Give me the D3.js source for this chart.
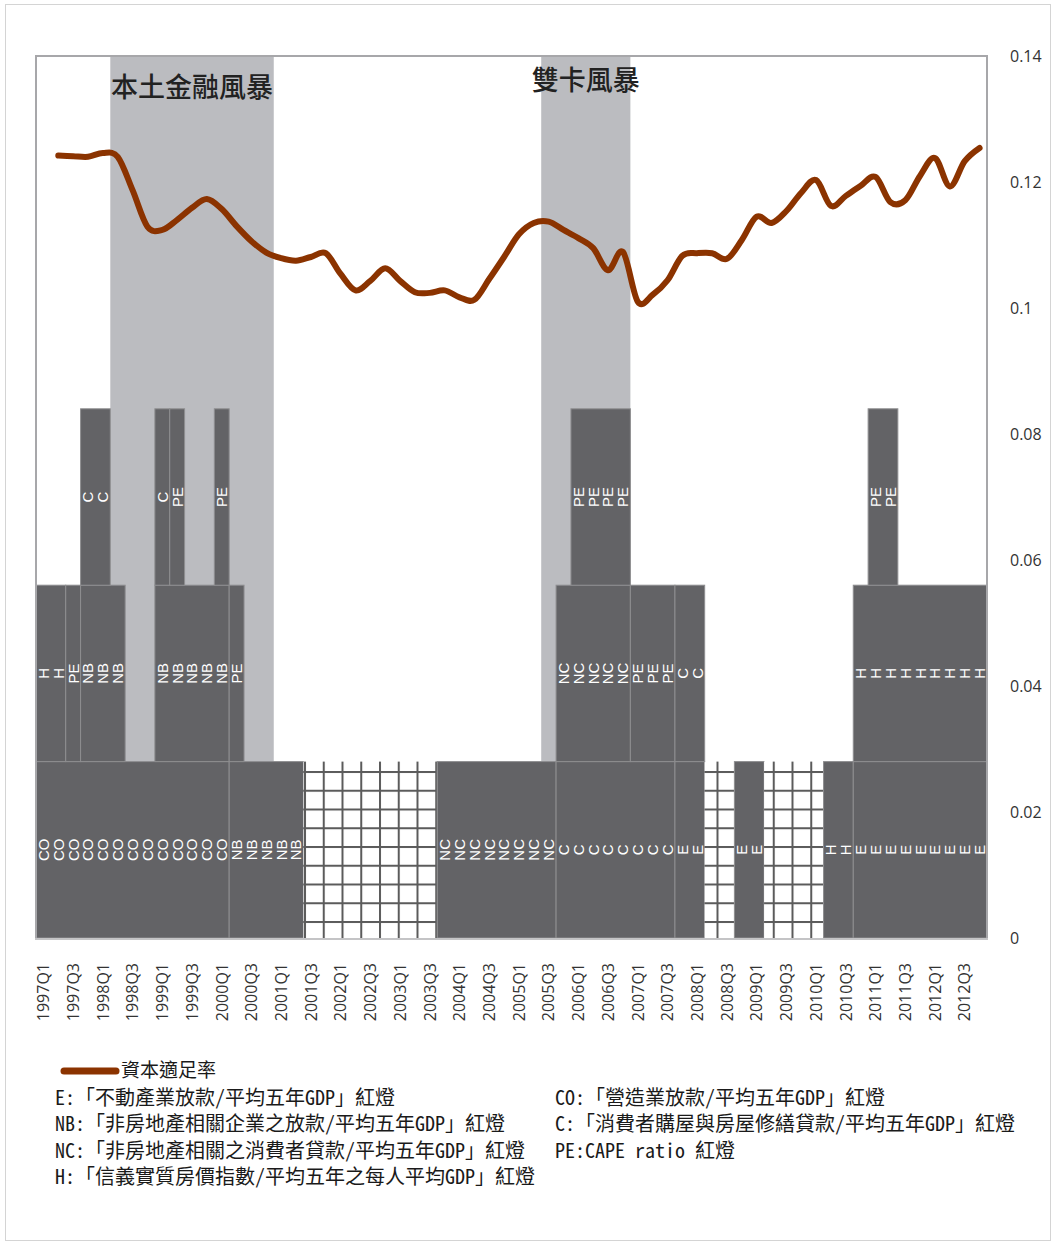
<!DOCTYPE html>
<html>
<head>
<meta charset="utf-8">
<script src="https://cdn.jsdelivr.net/npm/d3@7"></script>
<style>
  body { margin: 0; background: #fff; }
  svg { display: block; }
</style>
</head>
<body>
<script>
// Quarterly categories, 1997Q1 – 2012Q4
const quarters = [
  "1997Q1","1997Q2","1997Q3","1997Q4","1998Q1","1998Q2","1998Q3","1998Q4",
  "1999Q1","1999Q2","1999Q3","1999Q4","2000Q1","2000Q2","2000Q3","2000Q4",
  "2001Q1","2001Q2","2001Q3","2001Q4","2002Q1","2002Q2","2002Q3","2002Q4",
  "2003Q1","2003Q2","2003Q3","2003Q4","2004Q1","2004Q2","2004Q3","2004Q4",
  "2005Q1","2005Q2","2005Q3","2005Q4","2006Q1","2006Q2","2006Q3","2006Q4",
  "2007Q1","2007Q2","2007Q3","2007Q4","2008Q1","2008Q2","2008Q3","2008Q4",
  "2009Q1","2009Q2","2009Q3","2009Q4","2010Q1","2010Q2","2010Q3","2010Q4",
  "2011Q1","2011Q2","2011Q3","2011Q4","2012Q1","2012Q2","2012Q3","2012Q4"
];

// 資本適足率 (one value per quarter; first quarter not reported)
const capitalAdequacy = [
  null,   0.1242, 0.1241, 0.1240,
  0.1246, 0.1240, 0.1187, 0.1129,
  0.1124, 0.1140, 0.1159, 0.1173,
  0.1157, 0.1130, 0.1106, 0.1088,
  0.1079, 0.1075, 0.1081, 0.1087,
  0.1054, 0.1028, 0.1043, 0.1063,
  0.1043, 0.1025, 0.1024, 0.1028,
  0.1017, 0.1013, 0.1046, 0.1081,
  0.1117, 0.1135, 0.1137, 0.1124,
  0.1111, 0.1095, 0.1060, 0.1089,
  0.1010, 0.1021, 0.1044, 0.1083,
  0.1087, 0.1087, 0.1078, 0.1108,
  0.1145, 0.1135, 0.1154, 0.1183,
  0.1203, 0.1162, 0.1178, 0.1194,
  0.1208, 0.1168, 0.1171, 0.1210,
  0.1238, 0.1193, 0.1233, 0.1254
];

// Red-light signals per quarter, in three stacked layers ("" = no signal)
const bottomSignals = [
  "CO","CO","CO","CO",  "CO","CO","CO","CO",  "CO","CO","CO","CO",  "CO","NB","NB","NB",
  "NB","NB","","",      "","","","",          "","","","NC",        "NC","NC","NC","NC",
  "NC","NC","NC","C",   "C","C","C","C",      "C","C","C","E",      "E","","","E",
  "E","","","",         "","H","H","E",       "E","E","E","E",      "E","E","E","E"
];
const middleSignals = [
  "H","H","PE","NB",    "NB","NB","","",      "NB","NB","NB","NB",  "NB","PE","","",
  "","","","",          "","","","",          "","","","",          "","","","",
  "","","","NC",        "NC","NC","NC","NC",  "PE","PE","PE","C",   "C","","","",
  "","","","",          "","","","H",         "H","H","H","H",      "H","H","H","H"
];
const topSignals = [
  "","","","C",         "C","","","",         "C","PE","","",       "PE","","","",
  "","","","",          "","","","",          "","","","",          "","","","",
  "","","","",          "PE","PE","PE","PE",  "","","","",          "","","","",
  "","","","",          "","","","",          "PE","PE","","",      "","","",""
];
const signalLayers = [bottomSignals, middleSignals, topSignals];
const layerValue = 0.028;   // height of one signal layer on the value axis

// Crisis periods
const crisisNames = ["本土金融風暴", "雙卡風暴"];
const crisisStart = ["1998Q2", "2005Q3"];
const crisisEnd   = ["2000Q4", "2006Q4"];

// Value axis ticks
const yTicks = [0, 0.02, 0.04, 0.06, 0.08, 0.10, 0.12, 0.14];

// Legend
const lineName = "資本適足率";
const legendLeft = [
  "E:「不動產業放款/平均五年GDP」紅燈",
  "NB:「非房地產相關企業之放款/平均五年GDP」紅燈",
  "NC:「非房地產相關之消費者貸款/平均五年GDP」紅燈",
  "H:「信義實質房價指數/平均五年之每人平均GDP」紅燈"
];
const legendRight = [
  "CO:「營造業放款/平均五年GDP」紅燈",
  "C:「消費者購屋與房屋修繕貸款/平均五年GDP」紅燈",
  "PE:CAPE ratio 紅燈"
];

// ---------- drawing ----------
const W = 1056, H = 1246;
const plot = { left: 36, right: 987, top: 56, bottom: 938 };

const svg = d3.select("body").append("svg")
  .attr("width", W).attr("height", H);

const x = d3.scaleBand().domain(quarters).range([plot.left, plot.right]).padding(0);
const y = d3.scaleLinear().domain([0, 0.14]).range([plot.bottom, plot.top]);
const bw = x.bandwidth();

// outer frame
svg.append("rect")
  .attr("x", 5.5).attr("y", 4.5).attr("width", W - 11).attr("height", H - 10)
  .attr("fill", "none").attr("stroke", "#d4d4d4").attr("stroke-width", 1);

// grid hatch for quarters without a bottom-layer signal
const defs = svg.append("defs");
const pat = defs.append("pattern")
  .attr("id", "noSignal")
  .attr("patternUnits", "userSpaceOnUse")
  .attr("x", 304).attr("y", 771)
  .attr("width", 18.75).attr("height", 18.75);
pat.append("rect").attr("width", 18.75).attr("height", 18.75).attr("fill", "#fff");
pat.append("rect").attr("width", 2).attr("height", 18.75).attr("fill", "#5b5b5b");
pat.append("rect").attr("width", 18.75).attr("height", 2).attr("fill", "#5b5b5b");

// crisis shading
const crises = crisisNames.map((n, i) => ({ name: n, start: crisisStart[i], end: crisisEnd[i] }));
svg.append("g").selectAll("rect").data(crises).join("rect")
  .attr("x", d => x(d.start))
  .attr("width", d => x(d.end) + bw - x(d.start))
  .attr("y", y(0.14))
  .attr("height", y(0) - y(0.14))
  .attr("fill", "#bbbcc0");

// group consecutive quarters sharing a signal code into one block
function runs(codes) {
  const out = [];
  codes.forEach((c, i) => {
    const last = out[out.length - 1];
    if (last && last.code === c && last.end === i - 1) last.end = i;
    else out.push({ code: c, start: i, end: i });
  });
  return out;
}

const barG = svg.append("g");
signalLayers.forEach((codes, layer) => {
  const y0 = layer * layerValue, y1 = (layer + 1) * layerValue;
  runs(codes).forEach(r => {
    if (r.code === "" && layer > 0) return;
    barG.append("rect")
      .attr("x", x(quarters[r.start]))
      .attr("width", x(quarters[r.end]) + bw - x(quarters[r.start]))
      .attr("y", y(y1))
      .attr("height", y(y0) - y(y1))
      .attr("fill", r.code === "" ? "url(#noSignal)" : "#636366")
      .attr("stroke", r.code === "" ? "none" : "#8e8e90")
      .attr("stroke-width", 1);
  });
  // per-quarter code labels
  barG.append("g").selectAll("text")
    .data(codes.map((c, i) => ({ c, q: quarters[i] })).filter(d => d.c !== ""))
    .join("text")
    .attr("transform", d => `translate(${x(d.q) + bw / 2},${y((y0 + y1) / 2)}) rotate(-90)`)
    .attr("text-anchor", "middle")
    .attr("dy", "0.36em")
    .attr("fill", "#fff")
    .attr("font-family", "Liberation Sans, Arial, sans-serif")
    .attr("font-size", 15)
    .text(d => d.c);
});

// plot frame
svg.append("path")
  .attr("d", `M${plot.left},${plot.bottom}V${plot.top}H${plot.right}V${plot.bottom}`)
  .attr("fill", "none").attr("stroke", "#a7a7aa").attr("stroke-width", 2);
svg.append("line")
  .attr("x1", plot.left - 1).attr("x2", plot.right + 1)
  .attr("y1", plot.bottom + 1).attr("y2", plot.bottom + 1)
  .attr("stroke", "#c4c4c6").attr("stroke-width", 2);

// capital adequacy line
const lineGen = d3.line()
  .defined(d => d.v != null)
  .x(d => x(d.q) + bw / 2)
  .y(d => y(d.v))
  .curve(d3.curveCatmullRom.alpha(0));
svg.append("path")
  .datum(quarters.map((q, i) => ({ q, v: capitalAdequacy[i] })))
  .attr("d", lineGen)
  .attr("fill", "none")
  .attr("stroke", "#8b3300")
  .attr("stroke-width", 6)
  .attr("stroke-linecap", "round")
  .attr("stroke-linejoin", "round");

// crisis titles
const titleBaseline = [97, 90];
svg.append("g").selectAll("text").data(crises).join("text")
  .attr("x", d => (x(d.start) + x(d.end) + bw) / 2)
  .attr("y", (d, i) => titleBaseline[i])
  .attr("text-anchor", "middle")
  .attr("font-family", "Noto Sans CJK TC, sans-serif")
  .attr("font-weight", 500)
  .attr("font-size", 27)
  .attr("fill", "#222")
  .text(d => d.name);

// value axis (right)
const yAxis = svg.append("g")
  .attr("transform", `translate(${plot.right},0)`)
  .call(d3.axisRight(y).tickValues(yTicks).tickSize(0).tickPadding(23)
    .tickFormat(d => d3.format("~g")(+d.toFixed(2))));
yAxis.select(".domain").remove();
yAxis.selectAll("text")
  .attr("font-family", "Open Sans, sans-serif")
  .attr("font-size", 16)
  .attr("fill", "#333");

// category axis (every other quarter)
const xAxis = svg.append("g")
  .attr("transform", `translate(0,${plot.bottom})`)
  .call(d3.axisBottom(x).tickValues(quarters.filter((q, i) => i % 2 === 0)).tickSize(0));
xAxis.select(".domain").remove();
xAxis.selectAll("text")
  .attr("transform", "rotate(-90)")
  .attr("x", -25).attr("y", 0)
  .attr("dy", "0.36em")
  .attr("text-anchor", "end")
  .attr("font-family", "Open Sans, sans-serif")
  .attr("font-size", 16)
  .attr("fill", "#333");

// legend
const lg = svg.append("g")
  .attr("font-family", "'Noto Sans Mono CJK TC', 'Noto Sans CJK TC', sans-serif")
  .attr("font-size", 20)
  .attr("font-weight", 500)
  .attr("fill", "#1a1a1a");
lg.append("line")
  .attr("x1", 64).attr("x2", 116).attr("y1", 1071).attr("y2", 1071)
  .attr("stroke", "#8b3300").attr("stroke-width", 7).attr("stroke-linecap", "round");
lg.append("text").attr("x", 121).attr("y", 1077).attr("font-size", 19).text(lineName);
lg.selectAll("text.l").data(legendLeft).join("text").attr("class", "l")
  .attr("x", 55).attr("y", (d, i) => 1105 + i * 26.3).text(d => d);
lg.selectAll("text.r").data(legendRight).join("text").attr("class", "r")
  .attr("x", 555).attr("y", (d, i) => 1105 + i * 26.3).text(d => d);
</script>
</body>
</html>
